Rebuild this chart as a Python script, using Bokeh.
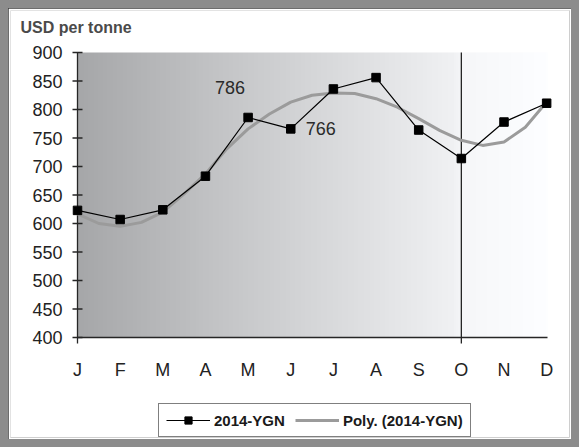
import numpy as np
from bokeh.plotting import figure
from bokeh.models import Range1d, Legend, LegendItem, Label, ColumnDataSource
from bokeh.core.properties import value
from bokeh.embed import file_html
from bokeh.resources import INLINE

# ---- data ----
months = ["J", "F", "M", "A", "M", "J", "J", "A", "S", "O", "N", "D"]
month_idx = list(range(12))
price_2014_ygn = [623, 607, 624, 683, 786, 766, 836, 856, 764, 714, 778, 811]

poly_x = [0, 0.5, 1, 1.5, 2, 2.5, 3, 3.5, 4, 4.5, 5, 5.5, 6, 6.5, 7, 7.5, 8, 8.5,
          9, 9.5, 10, 10.5, 11]
poly_y = [617, 600, 595, 602, 620, 652, 687, 731, 766, 792, 813, 825, 829, 828,
          819, 804, 784, 763, 746, 737, 743, 769, 813]

y_ticks = [400, 450, 500, 550, 600, 650, 700, 750, 800, 850, 900]
marked_month = 9  # October vertical line
labelled = [4, 5]  # points with value labels

FONT = "Liberation Sans"

# ---- layout (pixels) ----
W, H = 563, 431
B = 2                      # figure border
FRAME_W, FRAME_H = W - 2 * B, H - 2 * B
AX_LEFT, AX_TOP = 69 - B, 44 - B       # plot area corner inside the frame
PX_X = 42.65                           # px per month
PX_Y = 0.57                            # px per USD
X_MIN, X_MAX = 0, 11.02
Y_MIN, Y_MAX = y_ticks[0], y_ticks[-1]
x_start = X_MIN - AX_LEFT / PX_X
x_end = x_start + FRAME_W / PX_X
y_end = Y_MAX + AX_TOP / PX_Y
y_start = y_end - FRAME_H / PX_Y
TICK = 5.0                              # tick half length, px

p = figure(width=W, height=H, output_backend="svg", toolbar_location=None,
           x_range=Range1d(x_start, x_end), y_range=Range1d(y_start, y_end),
           min_border_left=B, min_border_right=B, min_border_top=B,
           min_border_bottom=B)
p.outline_line_color = None
p.background_fill_color = "white"
p.border_fill_color = "white"
p.xgrid.visible = False
p.ygrid.visible = False
p.xaxis.visible = False
p.yaxis.visible = False
p.styles = {"outline": "2px solid #3c3c3c", "outline-offset": "-2px"}

# background gradient (decorative)
n = 240
t = np.linspace(0, 1, n)
lev = np.interp(t, [0, 0.35, 0.8, 0.82, 1.0], [166, 200, 240, 246, 253]).astype(np.uint32)
img = np.zeros((1, n), dtype=np.uint32)
view = img.view(dtype=np.uint8).reshape((1, n, 4))
view[0, :, 0] = lev
view[0, :, 1] = np.clip(lev + 1, 0, 255)
view[0, :, 2] = np.clip(lev + 3, 0, 255)
view[0, :, 3] = 255
p.image_rgba(image=[img], x=X_MIN, y=Y_MIN, dw=X_MAX - X_MIN, dh=Y_MAX - Y_MIN)

# axis rules, October line and tick marks
dx = TICK / PX_X
dy = 6.0 / PX_Y
rule_xs = [[X_MIN, X_MIN], [X_MIN, X_MAX],
           [marked_month, marked_month], [X_MIN, X_MIN]]
rule_ys = [[Y_MIN, Y_MAX], [Y_MIN, Y_MIN],
           [Y_MIN - dy, Y_MAX], [Y_MIN - dy, Y_MIN]]
tick_xs = [[X_MIN - dx, X_MIN + dx] for _ in y_ticks]
tick_ys = [[v, v] for v in y_ticks]
p.multi_line(xs=rule_xs + tick_xs, ys=rule_ys + tick_ys,
             line_color="#262626", line_width=1.3)

# tick labels, placed through the plot's scales
p.text(x=[X_MIN] * len(y_ticks), y=y_ticks, text=[str(v) for v in y_ticks],
       x_offset=-15, text_align="right", text_baseline="middle",
       text_font=value(FONT), text_font_size="18px", text_color="#222222")
p.text(x=month_idx, y=[Y_MIN] * len(months), text=months,
       y_offset=32, text_align="center", text_baseline="middle",
       text_font=value(FONT), text_font_size="18px", text_color="#222222")

# poly trend
r_poly = p.line(poly_x, poly_y, line_color="#9b9b9b", line_width=3)

# data series
src = ColumnDataSource(dict(x=month_idx, y=price_2014_ygn))
r_line = p.line("x", "y", source=src, line_color="black", line_width=1.2)
r_pts = p.scatter("x", "y", source=src, marker="square", size=8.5,
                  fill_color="black", line_color="black")

# value labels
lab_src = ColumnDataSource(dict(x=[month_idx[i] for i in labelled],
                                y=[price_2014_ygn[i] for i in labelled],
                                t=[str(price_2014_ygn[i]) for i in labelled],
                                xo=[-18, 30], yo=[-30, 0]))
p.text("x", "y", text="t", source=lab_src, x_offset="xo", y_offset="yo",
       text_font=value(FONT), text_font_size="18px", text_color="#2a2a2a",
       text_align="center", text_baseline="middle")

# unit title
p.add_layout(Label(x=10, y=FRAME_H - 17, x_units="screen", y_units="screen",
                   text="USD per tonne", text_font=FONT, text_font_size="16px",
                   text_font_style="bold", text_color="#4a4a4a",
                   text_baseline="middle"))

legend = Legend(items=[LegendItem(label="2014-YGN", renderers=[r_line, r_pts]),
                       LegendItem(label="Poly. (2014-YGN)", renderers=[r_poly])],
                location=(148, 0), orientation="horizontal",
                glyph_width=44, glyph_height=18, label_height=18,
                label_standoff=4, spacing=10, padding=7, margin=0,
                label_text_font=FONT, label_text_font_size="15px",
                label_text_font_style="bold", label_text_color="#1a1a1a",
                border_line_color="black", border_line_width=1.2,
                background_fill_color="white", background_fill_alpha=1)
p.add_layout(legend, "center")

html = file_html(p, INLINE)
html = html.replace("</head>",
                    "<style>html,body{background:#8c8c8c;}body{margin:8px;}</style></head>", 1)
open("out.html", "w").write(html)
